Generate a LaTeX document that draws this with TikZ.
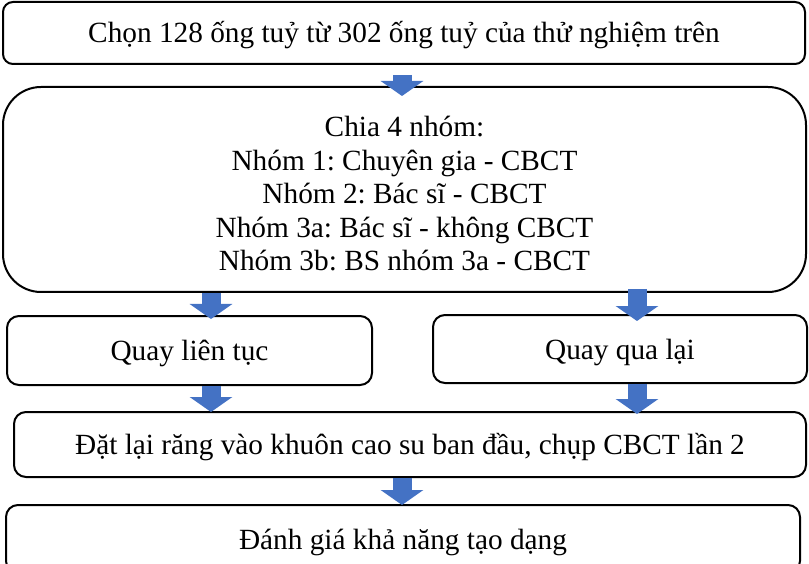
\documentclass[tikz,border=0pt]{standalone}
\usepackage{fontspec}
\setmainfont{Liberation Serif}
\usetikzlibrary{arrows.meta,calc}
\definecolor{arrowblue}{HTML}{4472C4}
\tikzset{
  box/.style={draw=black, line width=2pt, fill=white, align=center, inner sep=0pt,
    font=\fontsize{29.3}{33.5}\selectfont\frenchspacing},
  one/.style={text height=26pt, text depth=6pt},
  blk/.style={draw=arrowblue, line width=19pt, line cap=butt,
    -{Triangle[width=42pt,length=15pt,fill=arrowblue]}}
}
\begin{document}
\begin{tikzpicture}[x=1pt,y=-1pt]
\useasboundingbox (0,0) rectangle (809,564);
\begin{scope}
\clip (0,0) rectangle (809,564);
\node[box, one, rounded corners=10pt, minimum width=802pt, minimum height=62pt] (b1) at (404,33) {Chọn 128 ống tuỷ từ 302 ống tuỷ của thử nghiệm trên};
\node[box, rounded corners=38pt, minimum width=803pt, minimum height=205pt] (b2) at (404.5,189.5) {\rule{0pt}{29pt}Chia 4 nhóm:\\Nhóm 1: Chuyên gia - CBCT\\Nhóm 2: Bác sĩ - CBCT\\Nhóm 3a: Bác sĩ - không CBCT\\Nhóm 3b: BS nhóm 3a - CBCT};
\node[box, one, rounded corners=12pt, minimum width=365pt, minimum height=69pt] (b3) at (189.5,350.5) {Quay liên tục};
\node[box, one, rounded corners=12pt, minimum width=374pt, minimum height=68pt] (b4) at (620,349) {Quay qua lại};
\node[box, one, rounded corners=12pt, minimum width=792pt, minimum height=65pt] (b5) at (410,444.5) {Đặt lại răng vào khuôn cao su ban đầu, chụp CBCT lần 2};
\node[box, one, rounded corners=12pt, minimum width=794pt, minimum height=68pt] (b6) at (403,539) {Đánh giá khả năng tạo dạng};
\coordinate (la) at (211,0);
\coordinate (ra) at (637,0);
\coordinate (ma) at (402,0);
\draw[blk] ($(ma |- b1.south)+(0,10)$) -- ($(ma |- b2.north)+(0,10)$);
\draw[blk] (la |- b2.south) -- ($(la |- b3.north)+(0,4)$);
\draw[blk] ($(ra |- b2.south)+(0,-4)$) -- ($(ra |- b4.north)+(0,7)$);
\draw[blk] (la |- b3.south) -- ($(la |- b5.north)+(0,1)$);
\draw[blk] (ra |- b4.south) -- ($(ra |- b5.north)+(0,3)$);
\draw[blk] (ma |- b5.south) -- ($(ma |- b6.north)+(0,1)$);
\end{scope}
\end{tikzpicture}
\end{document}
